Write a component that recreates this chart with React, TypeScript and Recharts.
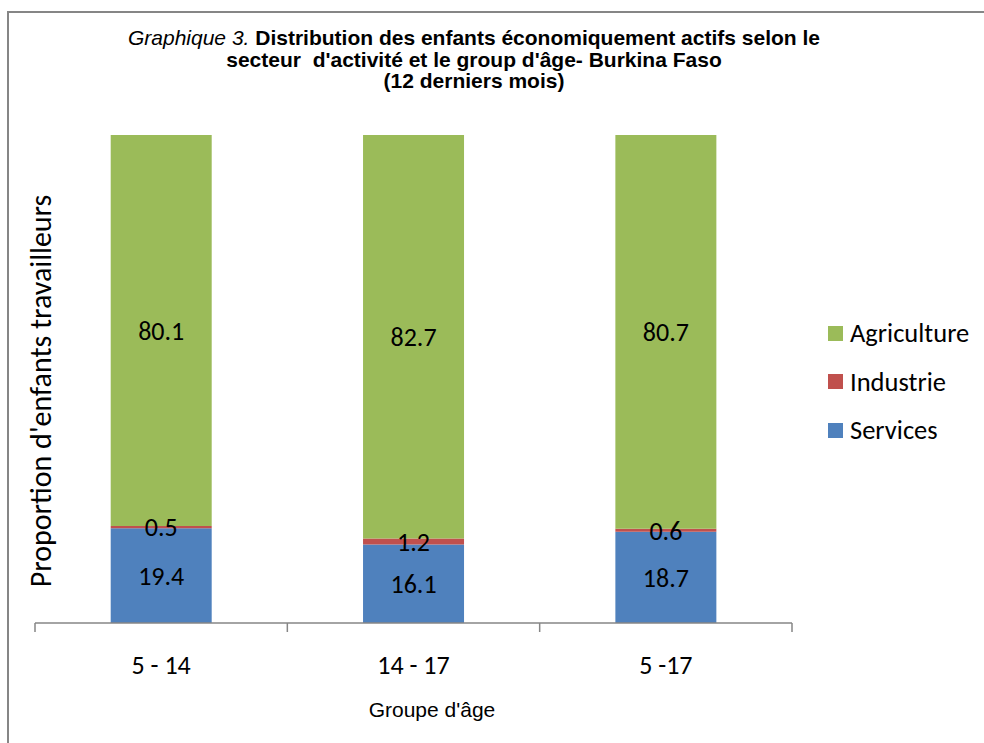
import { BarChart, Bar, XAxis, YAxis, LabelList, Legend } from "recharts";

const GROUPS = ["5 - 14", "14 - 17", "5 -17"];
const SERVICES = [19.4, 16.1, 18.7];
const INDUSTRIE = [0.5, 1.2, 0.6];
const AGRICULTURE = [80.1, 82.7, 80.7];

const BLUE = "#4F81BD";
const RED = "#C0504D";
const GREEN = "#9BBB59";
const AXIS = "#868686";
const BODY_FONT = "Carlito, Calibri, Lato, sans-serif";
const TITLE_FONT = "'Liberation Sans', Arial, sans-serif";

const data = GROUPS.map((g, i) => ({
  group: g,
  services: SERVICES[i],
  industrie: INDUSTRIE[i],
  agriculture: AGRICULTURE[i],
}));

// Excel puts the category tick marks between the groups, not under them
function GroupTick({ x = 0, y = 0, payload, index = 0, width = 0, visibleTicksCount = 1 }: {
  x?: number; y?: number; index?: number; width?: number; visibleTicksCount?: number;
  payload?: { value: string; offset?: number };
}) {
  const half = payload?.offset || width / visibleTicksCount / 2;
  const isLast = index === visibleTicksCount - 1;
  return (
    <g>
      <line x1={x - half} x2={x - half} y1={y} y2={y + 9} stroke={AXIS} strokeWidth={1.5} />
      {isLast && <line x1={x + half} x2={x + half} y1={y} y2={y + 9} stroke={AXIS} strokeWidth={1.5} />}
      <text x={x} y={y} dy={51} textAnchor="middle" fontSize={26} fontFamily={BODY_FONT} fill="#000">
        {payload?.value}
      </text>
    </g>
  );
}

function SectorLegend({ payload }: { payload?: { value: string; color: string }[] }) {
  return (
    <div>
      {(payload ?? []).map((p) => (
        <div key={p.value} style={{ height: 48.5, display: "flex", alignItems: "center" }}>
          <span style={{ width: 15, height: 15, background: p.color, marginRight: 7, display: "inline-block" }} />
          <span style={{ fontSize: 26.5, fontFamily: BODY_FONT, color: "#000", lineHeight: 1 }}>{p.value}</span>
        </div>
      ))}
    </div>
  );
}

export default function App() {
  return (
    <div style={{ position: "absolute", left: 0, top: 0, width: 984, height: 743, overflow: "hidden", background: "#fff" }}>
      <div style={{
        position: "absolute", left: 7, top: 11, width: 1100, height: 900,
        borderLeft: `2px solid ${AXIS}`, borderTop: `2px solid ${AXIS}`,
      }} />

      <div style={{
        position: "absolute", left: 0, top: 27, width: 948, textAlign: "center",
        fontFamily: TITLE_FONT, fontSize: 21, lineHeight: "21.5px", fontWeight: "bold", color: "#000",
      }}>
        <span style={{ fontStyle: "italic", fontWeight: "normal" }}>Graphique 3.</span> Distribution des enfants économiquement actifs selon le<br />
        secteur&nbsp; d'activité et le group d'âge- Burkina Faso<br />
        (12 derniers mois)
      </div>

      <div style={{ position: "absolute", left: 41, top: 391, width: 0, height: 0 }}>
        <div style={{
          position: "absolute", transform: "translate(-50%, -50%) rotate(-90deg)",
          whiteSpace: "nowrap", fontFamily: BODY_FONT, fontSize: 30, color: "#000", lineHeight: 1,
        }}>
          Proportion d'enfants travailleurs
        </div>
      </div>

      <div style={{
        position: "absolute", left: 332, top: 699, width: 200, textAlign: "center",
        fontFamily: TITLE_FONT, fontSize: 21, lineHeight: "21px", color: "#000",
      }}>
        Groupe d'âge
      </div>

      <div style={{ position: "absolute", left: 0, top: 0 }}>
        <BarChart width={984} height={743} data={data}
          margin={{ top: 135, right: 192, bottom: 60, left: 35 }} barCategoryGap="30%">
          <YAxis hide domain={[0, 100]} />
          <XAxis dataKey="group" height={60} interval={0} tickLine={false} tickSize={0} tickMargin={0}
            axisLine={{ stroke: AXIS, strokeWidth: 1.5 }} tick={<GroupTick />} />
          <Legend layout="vertical" align="center" verticalAlign="middle"
            wrapperStyle={{ left: 828, top: 309, width: 150 }} content={<SectorLegend />} />
          <Bar dataKey="services" name="Services" stackId="s" fill={BLUE} isAnimationActive={false}>
            <LabelList dataKey="services" position="center" fill="#000" fontSize={26} fontFamily={BODY_FONT} />
          </Bar>
          <Bar dataKey="industrie" name="Industrie" stackId="s" fill={RED} isAnimationActive={false}>
            <LabelList dataKey="industrie" position="center" fill="#000" fontSize={26} fontFamily={BODY_FONT} />
          </Bar>
          <Bar dataKey="agriculture" name="Agriculture" stackId="s" fill={GREEN} isAnimationActive={false}>
            <LabelList dataKey="agriculture" position="center" fill="#000" fontSize={26} fontFamily={BODY_FONT} />
          </Bar>
        </BarChart>
      </div>
    </div>
  );
}
